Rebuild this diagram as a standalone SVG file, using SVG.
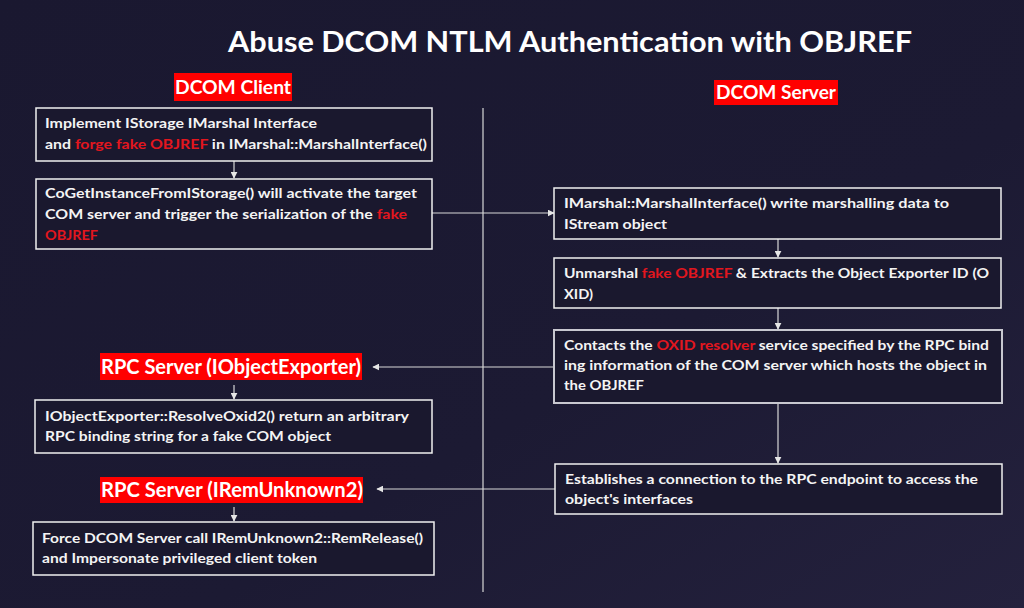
<svg xmlns="http://www.w3.org/2000/svg" width="1024" height="608" viewBox="0 0 1024 608">
<defs>
<linearGradient id="bg" x1="0" y1="0" x2="1" y2="1">
<stop offset="0" stop-color="#1a1830"/>
<stop offset="0.6" stop-color="#1c1a33"/>
<stop offset="1" stop-color="#24213d"/>
</linearGradient>
<marker id="ah" viewBox="0 0 10 10" refX="9" refY="5" markerWidth="7" markerHeight="7" markerUnits="userSpaceOnUse" orient="auto">
<path d="M0,0 L10,5 L0,10 z" fill="#e6e6e6"/>
</marker>
<style>
.box{fill:#1a182e;stroke:#f0f0f0;stroke-width:1.5}
.box2{fill:#1a182e;stroke:#c8c8d0;stroke-width:2}
.t{font-family:Lato,"Open Sans","Liberation Sans",sans-serif;font-weight:bold;font-size:14px;fill:#f4f4f4}
.r{fill:#e3161e}
.lbl{fill:#ff0000}
.lt{font-family:Lato,"Open Sans","Liberation Sans",sans-serif;font-weight:bold;fill:#ffffff}
.c{stroke:#d8d8d8;stroke-width:1.2;fill:none}
</style>
</defs>
<rect width="1024" height="608" fill="url(#bg)"/>
<text x="570" y="52" text-anchor="middle" class="lt" font-size="29" textLength="684" lengthAdjust="spacingAndGlyphs">Abuse DCOM NTLM Authentication with OBJREF</text>

<g id="connectors">
<line class="c" x1="483" y1="108" x2="483" y2="592" stroke="#9a9aa6"/>
<line class="c" x1="234" y1="161" x2="234" y2="178" marker-end="url(#ah)"/>
<line class="c" x1="432" y1="213" x2="554" y2="213" marker-end="url(#ah)"/>
<line class="c" x1="778" y1="239" x2="778" y2="257" marker-end="url(#ah)"/>
<line class="c" x1="778" y1="308" x2="778" y2="329" marker-end="url(#ah)"/>
<line class="c" x1="778" y1="403" x2="778" y2="463" marker-end="url(#ah)"/>
<line class="c" x1="554" y1="367" x2="373" y2="367" marker-end="url(#ah)"/>
<line class="c" x1="555" y1="489" x2="377" y2="489" marker-end="url(#ah)"/>
<line class="c" x1="234" y1="385" x2="234" y2="399" marker-end="url(#ah)"/>
<line class="c" x1="234" y1="507" x2="234" y2="521" marker-end="url(#ah)"/>
</g>

<g id="dcom-client">
<rect x="174" y="73" width="118" height="28" class="lbl"/>
<text x="233" y="94" text-anchor="middle" class="lt" font-size="19" textLength="116" lengthAdjust="spacingAndGlyphs">DCOM Client</text>
</g>
<g id="dcom-server">
<rect x="714" y="80" width="124" height="25" class="lbl"/>
<text x="776" y="99" text-anchor="middle" class="lt" font-size="19" textLength="120" lengthAdjust="spacingAndGlyphs">DCOM Server</text>
</g>

<g id="client-implement">
<rect x="36" y="108" width="396" height="53" class="box"/>
<text x="45" y="128" class="t" textLength="272" lengthAdjust="spacingAndGlyphs">Implement IStorage IMarshal Interface</text>
<text x="45" y="149" class="t" textLength="382" lengthAdjust="spacingAndGlyphs">and <tspan class="r">forge fake OBJREF</tspan> in IMarshal::MarshalInterface()</text>
</g>

<g id="client-activate">
<rect x="36" y="179" width="396" height="70" class="box"/>
<text x="45" y="198" class="t" textLength="372" lengthAdjust="spacingAndGlyphs">CoGetInstanceFromIStorage() will activate the target</text>
<text x="45" y="219" class="t" textLength="362" lengthAdjust="spacingAndGlyphs">COM server and trigger the serialization of the <tspan class="r">fake</tspan></text>
<text x="45" y="240" class="t r" textLength="53" lengthAdjust="spacingAndGlyphs">OBJREF</text>
</g>

<g id="server-marshal">
<rect x="554" y="188" width="447" height="51" class="box"/>
<text x="564" y="208" class="t" textLength="385" lengthAdjust="spacingAndGlyphs">IMarshal::MarshalInterface() write marshalling data to</text>
<text x="564" y="229" class="t" textLength="103" lengthAdjust="spacingAndGlyphs">IStream object</text>
</g>

<g id="server-unmarshal">
<rect x="554" y="258" width="447" height="50" class="box"/>
<text x="564" y="278" class="t" textLength="425" lengthAdjust="spacingAndGlyphs">Unmarshal <tspan class="r">fake OBJREF</tspan> &amp; Extracts the Object Exporter ID (O</text>
<text x="564" y="299" class="t" textLength="29" lengthAdjust="spacingAndGlyphs">XID)</text>
</g>

<g id="server-contacts">
<rect x="554" y="330" width="448" height="73" class="box2"/>
<text x="564" y="350" class="t" textLength="425" lengthAdjust="spacingAndGlyphs">Contacts the <tspan class="r">OXID resolver</tspan> service specified by the RPC bind</text>
<text x="564" y="370" class="t" textLength="423" lengthAdjust="spacingAndGlyphs">ing information of the COM server which hosts the object in</text>
<text x="564" y="390" class="t" textLength="80" lengthAdjust="spacingAndGlyphs">the OBJREF</text>
</g>

<g id="server-establish">
<rect x="555" y="464" width="447" height="50" class="box"/>
<text x="565" y="484" class="t" textLength="413" lengthAdjust="spacingAndGlyphs">Establishes a connection to the RPC endpoint to access the</text>
<text x="565" y="504" class="t" textLength="128" lengthAdjust="spacingAndGlyphs">object's interfaces</text>
</g>

<g id="rpc-objectexporter">
<rect x="100" y="353" width="262" height="27" class="lbl"/>
<text x="231" y="374" text-anchor="middle" class="lt" font-size="21" textLength="260" lengthAdjust="spacingAndGlyphs">RPC Server (IObjectExporter)</text>
</g>

<g id="client-resolve">
<rect x="35" y="400" width="397" height="53" class="box"/>
<text x="45" y="421" class="t" textLength="364" lengthAdjust="spacingAndGlyphs">IObjectExporter::ResolveOxid2() return an arbitrary</text>
<text x="45" y="441" class="t" textLength="286" lengthAdjust="spacingAndGlyphs">RPC binding string for a fake COM object</text>
</g>

<g id="rpc-remunknown">
<rect x="100" y="477" width="263" height="26" class="lbl"/>
<text x="232" y="497" text-anchor="middle" class="lt" font-size="21" textLength="262" lengthAdjust="spacingAndGlyphs">RPC Server (IRemUnknown2)</text>
</g>

<g id="client-force">
<rect x="33" y="522" width="401" height="53" class="box"/>
<text x="42" y="543" class="t" textLength="381" lengthAdjust="spacingAndGlyphs">Force DCOM Server call IRemUnknown2::RemRelease()</text>
<text x="42" y="563" class="t" textLength="275" lengthAdjust="spacingAndGlyphs">and Impersonate privileged client token</text>
</g>
</svg>
